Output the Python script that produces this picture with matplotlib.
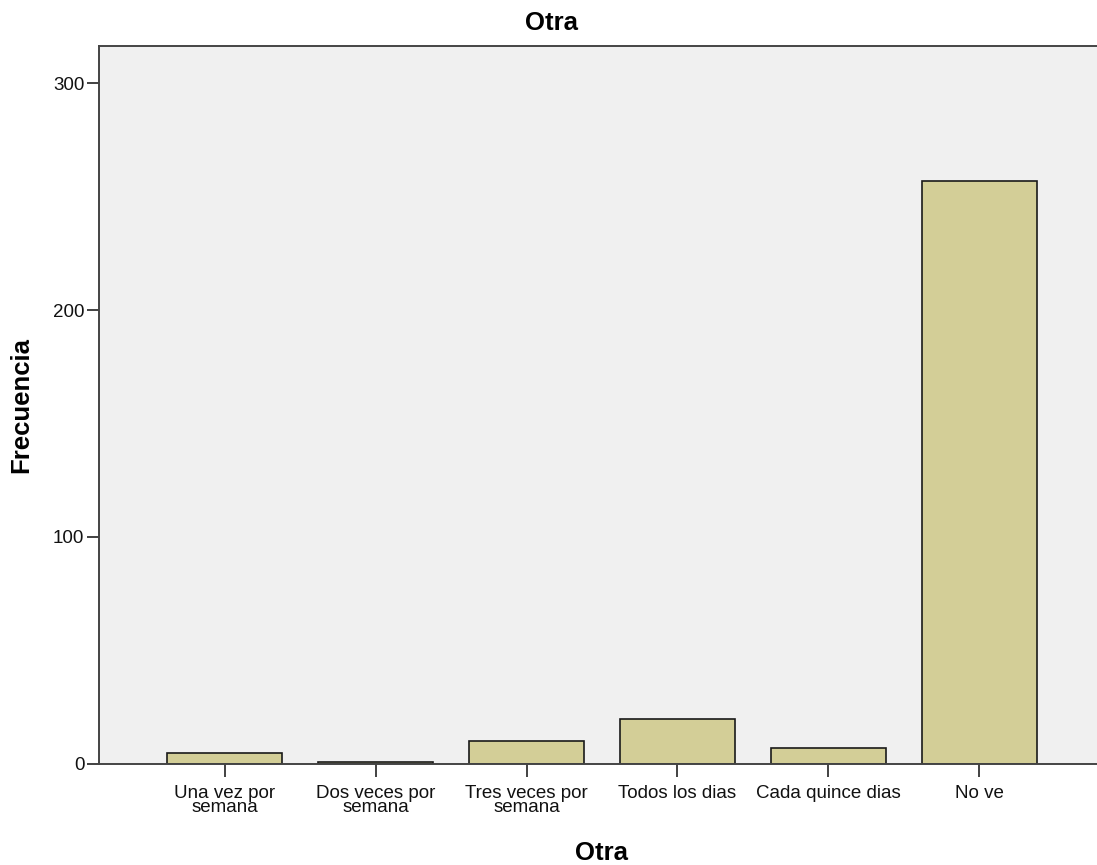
import matplotlib
matplotlib.use('Agg')
import matplotlib.pyplot as plt
import numpy as np

# data
categorias = ['Una vez por\nsemana', 'Dos veces por\nsemana', 'Tres veces por\nsemana',
              'Todos los dias', 'Cada quince dias', 'No ve']
frecuencia = [5, 1, 10, 20, 7, 257]
yticks = [0, 100, 200, 300]

plt.rcParams['font.family'] = ['Liberation Sans', 'DejaVu Sans']

fig = plt.figure(figsize=(10.97, 8.65), dpi=100)
ax = fig.add_axes([0.0902, 0.1168, 0.9171, 0.83])
ax.set_facecolor('#f0f0f0')

x = np.arange(len(categorias))
ax.bar(x, frecuencia, width=0.76, color='#d3ce97', edgecolor='#1a1a1a', linewidth=1.2, zorder=2)

ax.set_xlim(-0.834, 5.834)
ax.set_ylim(0, 316.3)
ax.set_xticks(x)
ax.set_xticklabels(categorias, fontsize=13.5, linespacing=0.82)
ax.set_yticks(yticks)
ax.set_yticklabels([str(v) for v in yticks], fontsize=13.5)
ax.tick_params(axis='both', direction='out', length=9, width=1.3, color='#333333', labelcolor='#111111')
ax.tick_params(axis='x', pad=6)
ax.tick_params(axis='y', pad=1.5)

for s in ['left', 'top', 'bottom']:
    ax.spines[s].set_color('#444444')
    ax.spines[s].set_linewidth(1.4)
ax.spines['right'].set_visible(False)

# title is centred on the figure, not the axes
fig.text(551 / 1097, 1 - 23 / 865, 'Otra', fontsize=18.5, fontweight='bold', ha='center', va='center')
ax.set_xlabel('Otra', fontsize=18.5, fontweight='bold')
ax.xaxis.set_label_coords(0.5, -0.107)
ax.set_ylabel('Frecuencia', fontsize=18.5, fontweight='bold')
ax.yaxis.set_label_coords(-0.0656, 0.5)

fig.savefig('out.png', dpi=100)
